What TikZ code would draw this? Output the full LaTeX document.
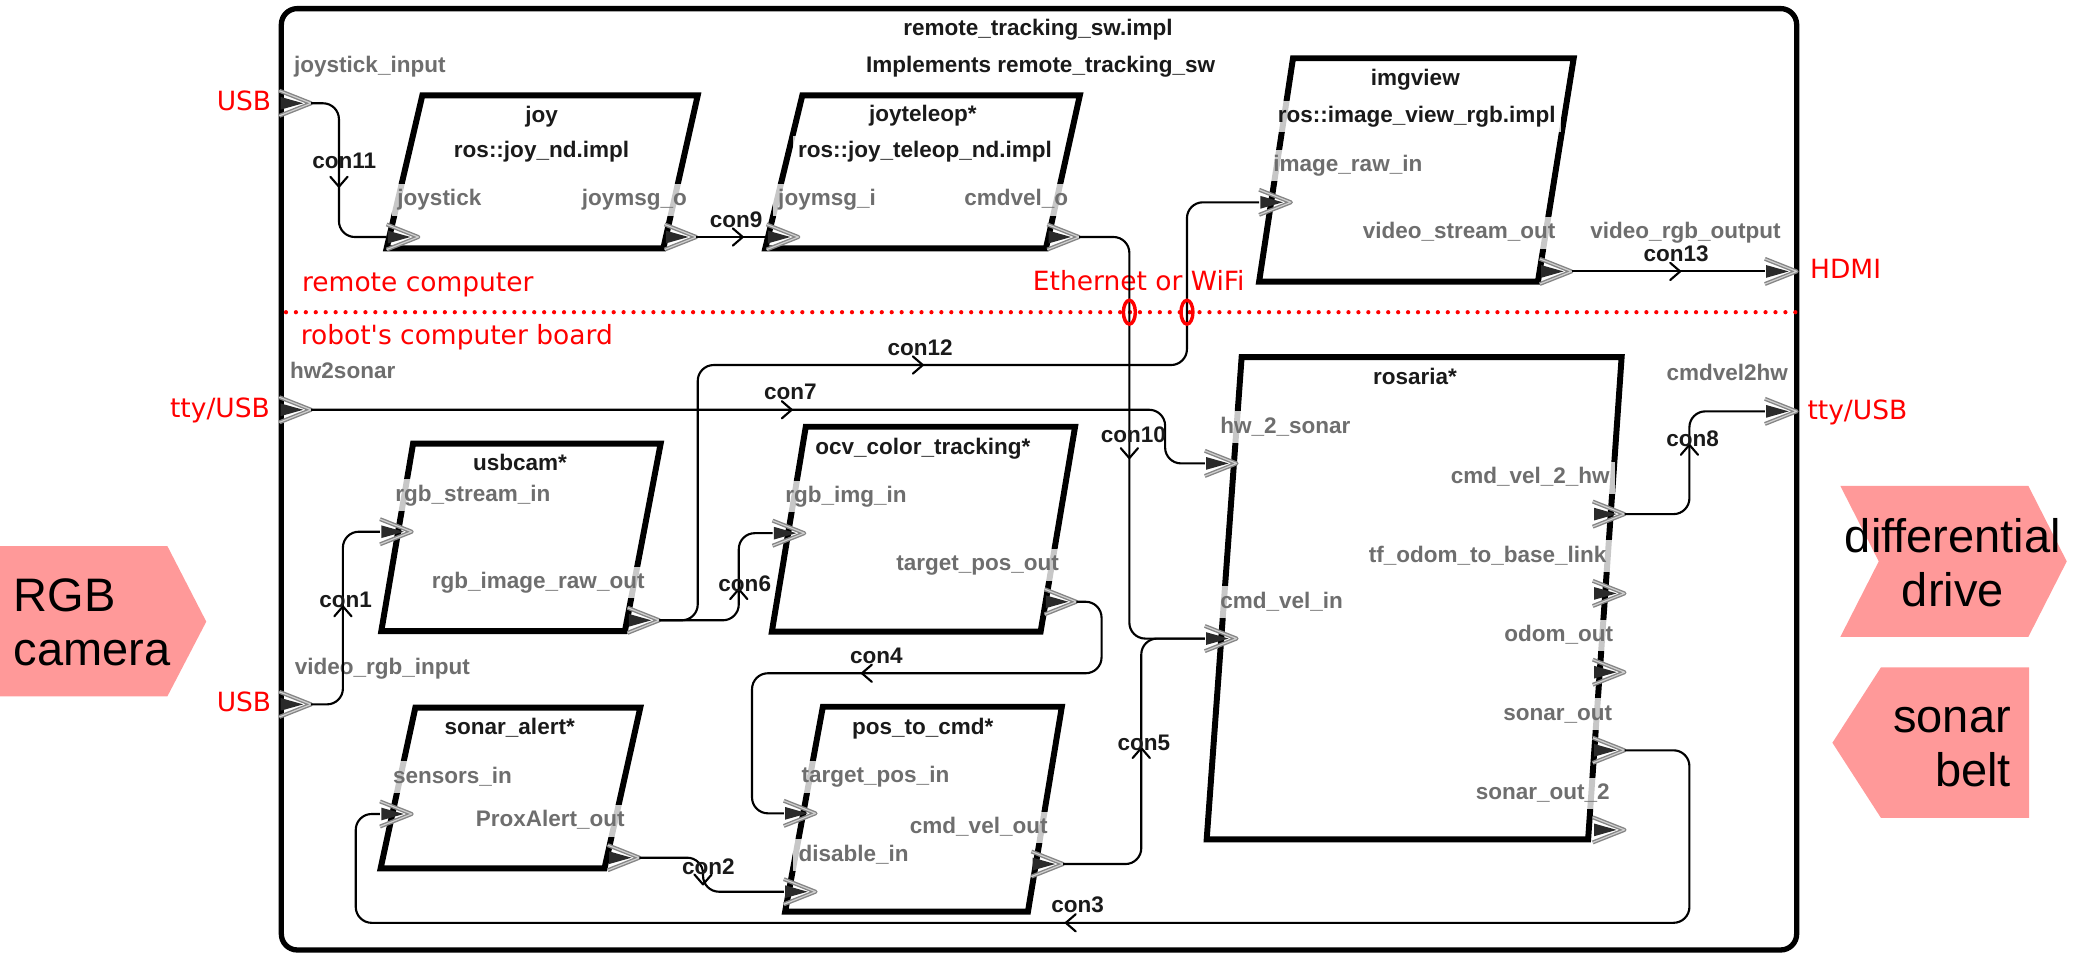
\documentclass[tikz,border=0pt]{standalone}
\usepackage{fontspec}
\setmainfont{Liberation Sans}
\newfontfamily\netfont[Ligatures=TeXOff]{DejaVu Sans}
\usepackage{xcolor}
\usepackage{tikz}
\usetikzlibrary{calc,arrows.meta,positioning}
\definecolor{figink}{HTML}{1A1A1A}
\definecolor{portink}{HTML}{6E6E6E}
\definecolor{portedge}{HTML}{858585}
\definecolor{portcore}{HTML}{D0D0D0}
\definecolor{portfill}{HTML}{2A2A2A}
\definecolor{netred}{HTML}{FF0000}
\definecolor{devpink}{HTML}{FF9999}

\begin{document}
\begin{tikzpicture}[
    x=1pt, y=-1pt,
    every node/.style={font=\fontsize{17}{19}\selectfont\bfseries, inner sep=0pt},
    comp/.style={draw=black, line width=4.5pt, line join=miter},
    lbl/.style={fill=white, fill opacity=0.78, text opacity=1, inner xsep=4pt, inner ysep=4pt, text height=12.5pt, text depth=3.5pt},
    tlabel/.style={lbl, text=figink},
    plabel/.style={lbl, text=portink},
    clabel/.style={text=figink, text height=12.5pt, text depth=3.5pt},
    conn/.style={draw=black, line width=1.6pt, rounded corners=12pt},
    netlabel/.style={font=\netfont\fontsize{20}{24}\selectfont, text=netred, text height=15pt, text depth=4pt},
    devlabel/.style={font=\fontsize{35.5}{41}\selectfont, text=black},
    pics/port/.style={code={
      \draw[portedge, line width=3pt, line join=round] (0,-9.5) -- (24,0) -- (0,9.5);
      \draw[portcore, line width=0.9pt, line join=round] (0,-9.5) -- (24,0) -- (0,9.5);
      \fill[portfill] (1,-4.8) -- (18,0) -- (1,4.8) -- cycle;
      \coordinate (-base) at (0,0);
      \coordinate (-tip) at (24,0);
    }},
    pics/tick/.style={code={
      \draw[black, line width=1.6pt, line cap=round, line join=round] (-3.5,-6.5) -- (4,0) -- (-3.5,6.5);
    }},
  ]
  \useasboundingbox (0,0) rectangle (1568,721);

  \fill[devpink] (0,412.4) -- (126.4,412.4) -- (155.8,469.5) -- (126.4,526) -- (0,526) -- cycle;
  \node[devlabel, align=left, anchor=west] (cam-dev) at (10,470) {RGB\\camera};
  \fill[devpink] (1390,367) -- (1532,367) -- (1561,424) -- (1532,481) -- (1390,481) -- (1419,424) -- cycle;
  \node[devlabel, align=center] (drive-dev) at (1475,425) {differential\\drive};
  \fill[devpink] (1384,561) -- (1420.7,504) -- (1532.5,504) -- (1532.5,617.8) -- (1420.7,617.8) -- cycle;
  \node[devlabel, align=right, anchor=east] (sonar-dev) at (1519,564) {sonar\\belt};

  \draw[line width=4pt, rounded corners=12pt] (212.5,6.5) rectangle (1357,717.5);
  \node[tlabel] (sys-name) at (784,22) {remote\_tracking\_sw.impl};
  \node[tlabel] (sys-impl) at (786,50) {Implements remote\_tracking\_sw};

  \draw[netred, line width=3.2pt, line cap=round, dash pattern=on 0pt off 7.5pt] (216,235.8) -- (1357,235.8);
  \node[netlabel, anchor=west] (remote-lbl) at (228,215) {remote computer};
  \node[netlabel, anchor=west] (robot-lbl) at (227,255) {robot's computer board};
  \node[netlabel, anchor=west] (link-lbl) at (780,214) {Ethernet or WiFi};
  \node[netlabel, anchor=east] (usb1-lbl) at (205,78) {USB};
  \node[netlabel, anchor=east] (tty1-lbl) at (204,310) {tty/USB};
  \node[netlabel, anchor=east] (usb2-lbl) at (205,532) {USB};
  \node[netlabel, anchor=west] (hdmi-lbl) at (1367,205) {HDMI};
  \node[netlabel, anchor=west] (tty2-lbl) at (1365,311) {tty/USB};

  \draw[comp] (319,72) -- (527,72) -- (501,187.6) -- (292,187.6) -- cycle;
  \draw[comp] (606,72) -- (815.6,72) -- (790,187.6) -- (578,187.6) -- cycle;
  \draw[comp] (976.6,44) -- (1188.6,44) -- (1161.6,212.7) -- (951,212.7) -- cycle;
  \draw[comp] (312,335) -- (499,335) -- (472,476.7) -- (288,476.7) -- cycle;
  \draw[comp] (608.6,322.3) -- (812,322.3) -- (786,477) -- (583,477) -- cycle;
  \draw[comp] (313.7,534.5) -- (483.6,534.5) -- (456.6,655.8) -- (287.5,655.8) -- cycle;
  \draw[comp] (621.5,533.8) -- (802,533.8) -- (776.4,688.6) -- (593,688.6) -- cycle;
  \draw[comp] (937.8,269.8) -- (1224.8,269.8) -- (1199.5,634) -- (911.4,634) -- cycle;

  \node[tlabel] (joy-name) at (409,88) {joy};
  \node[tlabel] (joy-impl) at (409,114.6) {ros::joy\_nd.impl};
  \node[tlabel] (tel-name) at (697,87) {joyteleop*};
  \node[tlabel] (tel-impl) at (698.6,114.6) {ros::joy\_teleop\_nd.impl};
  \node[tlabel] (img-name) at (1069,60) {imgview};
  \node[tlabel] (img-impl) at (1070,88) {ros::image\_view\_rgb.impl};
  \node[tlabel] (cam-name) at (392.8,351) {usbcam*};
  \node[tlabel, anchor=west] (ocv-name) at (611.6,338.5) {ocv\_color\_tracking*};
  \node[tlabel] (sa-name) at (385,550) {sonar\_alert*};
  \node[tlabel] (ptc-name) at (697,550) {pos\_to\_cmd*};
  \node[tlabel] (ros-name) at (1068.7,285.7) {rosaria*};

  \node[plabel, anchor=west] (js-lbl) at (218,50) {joystick\_input};
  \node[plabel, anchor=west] (hw-lbl) at (215,281.5) {hw2sonar};
  \node[plabel, anchor=west] (vid-lbl) at (218.5,504.6) {video\_rgb\_input};
  \node[plabel, anchor=east] (vro-lbl) at (1349,176) {video\_rgb\_output};
  \node[plabel, anchor=east] (c2h-lbl) at (1354.6,282.7) {cmdvel2hw};

  \node[plabel, anchor=west] (joy-in-lbl) at (296,151) {joystick};
  \node[plabel, anchor=east] (joy-out-lbl) at (523,151) {joymsg\_o};
  \node[plabel, anchor=west] (tel-in-lbl) at (583.6,151) {joymsg\_i};
  \node[plabel, anchor=east] (tel-out-lbl) at (811,151) {cmdvel\_o};
  \node[plabel, anchor=west] (img-in-lbl) at (957.6,125) {image\_raw\_in};
  \node[plabel, anchor=east] (img-out-lbl) at (1179,176) {video\_stream\_out};
  \node[plabel, anchor=west] (cam-in-lbl) at (294.4,374) {rgb\_stream\_in};
  \node[plabel, anchor=east] (cam-out-lbl) at (491,440) {rgb\_image\_raw\_out};
  \node[plabel, anchor=west] (ocv-in-lbl) at (589,375) {rgb\_img\_in};
  \node[plabel, anchor=east] (ocv-out-lbl) at (804,426.7) {target\_pos\_out};
  \node[plabel, anchor=west] (sa-in-lbl) at (292.7,587) {sensors\_in};
  \node[plabel, anchor=east] (sa-out-lbl) at (476,620) {ProxAlert\_out};
  \node[plabel, anchor=west] (ptc-tgt-lbl) at (601.3,586.6) {target\_pos\_in};
  \node[plabel, anchor=west] (ptc-dis-lbl) at (599,645.8) {disable\_in};
  \node[plabel, anchor=east] (ptc-out-lbl) at (795.4,625) {cmd\_vel\_out};
  \node[plabel, anchor=west] (ros-hw-lbl) at (917.5,322.7) {hw\_2\_sonar};
  \node[plabel, anchor=west] (ros-cmd-lbl) at (917.5,454.8) {cmd\_vel\_in};
  \node[plabel, anchor=east] (ros-c2h-lbl) at (1220,361) {cmd\_vel\_2\_hw};
  \node[plabel, anchor=east] (ros-tf-lbl) at (1217.5,420) {tf\_odom\_to\_base\_link};
  \node[plabel, anchor=east] (ros-odom-lbl) at (1222.5,480) {odom\_out};
  \node[plabel, anchor=east] (ros-son-lbl) at (1221.8,539.5) {sonar\_out};
  \node[plabel, anchor=east] (ros-son2-lbl) at (1220,599.3) {sonar\_out\_2};

  \foreach \nm/\xx/\yy in {js/211/78, hw/211/309.5, vid/211/532, vro/1333/205, c2h/1333/310.7}
    \pic (\nm) at (\xx,\yy) {port};
  \foreach \nm/\xx/\yy in {joy-in/292/179, joy-out/502/179, tel-in/579/179, tel-out/791/179,
      img-in/951/152.8, img-out/1163/205, cam-in/287/401.6, cam-out/474/468.5,
      ocv-in/583.5/402.7, ocv-out/789/454.5, sa-in/287/614.8, sa-out/459/647.8,
      ptc-tgt/592/614.3, ptc-dis/592/673.5, ptc-out/779/652.6, ros-hw/910/350, ros-cmd/910/482.3}
    \pic (\nm) at (\xx,\yy) {port};
  \foreach \nm/\yy in {c2h/388.3, tf/448.2, odom/507.7, son/566.7, son2/626.8}
    \pic (ros-\nm) at (1203,\yy) {port};

  \draw[conn] (js-tip) -- ++(21,0) |- (joy-in-base);
  \draw[conn] (joy-out-tip) -- (tel-in-base);
  \draw[conn] (tel-out-tip) -- ++(38,0) |- (ros-cmd-base);
  \draw[conn] (ptc-out-tip) -- ++(59,0) |- (ros-cmd-base);
  \draw[conn] (cam-out-tip) -- ++(29,0) |- ++(369.5,-192.8) |- (img-in-base);
  \draw[conn] (hw-tip) -- ++(645,0) |- (ros-hw-base);
  \draw[conn] (cam-out-tip) -- ++(60,0) |- (ocv-in-base);
  \draw[conn] (vid-tip) -- ++(24,0) |- (cam-in-base);
  \draw[conn] (ocv-out-tip) -- ++(19,0) |- ++(-264,54) |- (ptc-tgt-base);
  \draw[conn] (sa-out-tip) -- ++(48,0) |- (ptc-dis-base);
  \draw[conn] (ros-son-tip) -- ++(49,0) |- ++(-1007.3,130.3) |- (sa-in-base);
  \draw[conn] (ros-c2h-tip) -- ++(49,0) |- (c2h-base);
  \draw[conn] (img-out-tip) -- (vro-base);

  \foreach \xx/\yy/\rr in {256/137/-90, 557/179/0, 853/342/-90, 693/275.7/0, 594/309.5/0,
      558/449/90, 259/462/90, 655/508.5/180, 862/569/90, 531/664/-90, 809/697/180,
      1276/340/90, 1265/205/0}
    \pic[rotate=\rr] at (\xx,\yy) {tick};
  \foreach \nm/\xx/\yy in {11/260/123, 9/556/167, 10/856/330, 12/695/264, 7/597/297,
      6/562.5/442, 1/261/454, 4/662/497, 5/864/562, 2/535/656, 3/814/685,
      8/1278.5/333, 13/1266/193}
    \node[clabel] (con\nm) at (\xx,\yy) {con\nm};

  \draw[netred, line width=2.6pt] (853,235.8) ellipse [x radius=4.5, y radius=9];
  \draw[netred, line width=2.6pt] (896.5,235.8) ellipse [x radius=4.5, y radius=9];
\end{tikzpicture}
\end{document}
